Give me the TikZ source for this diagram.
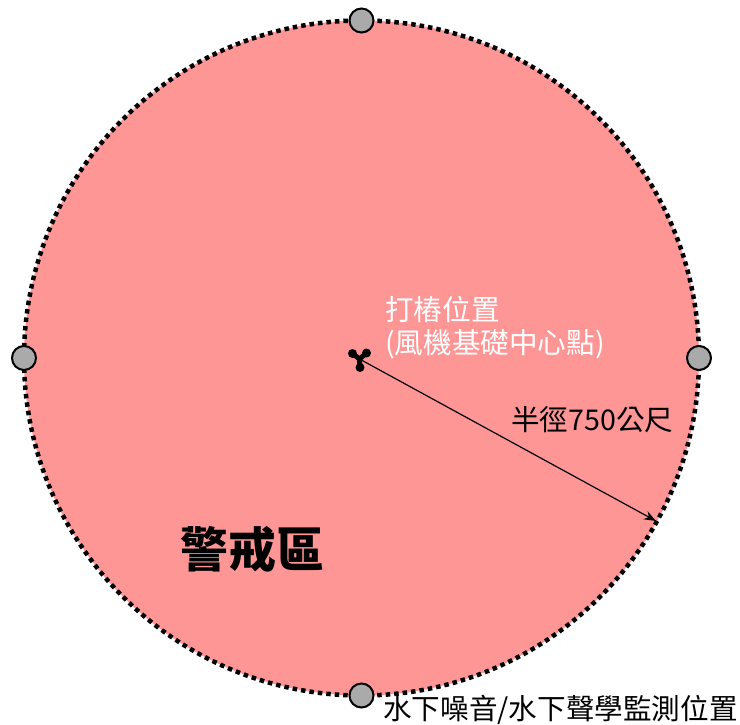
\documentclass[tikz,border=0pt]{standalone}
\usepackage{fontspec}
\setmainfont{Noto Sans CJK TC}
\usetikzlibrary{arrows.meta}
\definecolor{zonepink}{RGB}{255,150,150}
\definecolor{markgray}{RGB}{170,170,170}
\tikzset{
  zone/.style={fill=zonepink, draw=black, line width=4.5pt, dash pattern=on 4.5pt off 4pt},
  monitor/.style={circle, fill=markgray, draw=black, line width=2pt, minimum size=24pt, inner sep=0pt},
  lbl/.style={inner sep=0pt, anchor=west, font=\fontsize{28.6}{33}\selectfont},
}
\begin{document}
\begin{tikzpicture}[x=1pt,y=-1pt]
\useasboundingbox (0,0) rectangle (740,724);
\coordinate (c) at (361.5,358);
\draw[zone] (c) circle[radius=337.5];
\node[monitor] (top) at (361.5,20.5) {};
\node[monitor] (bottom) at (361.5,695.5) {};
\node[monitor] (left) at (24,358) {};
\node[monitor] (right) at (699,358) {};
% turbine symbol
\coordinate (t) at (359.5,359);
\coordinate (t1) at (352.5,353.5);
\coordinate (t2) at (366.5,353);
\coordinate (t3) at (360,367.5);
\draw[line width=5pt, line cap=round, line join=round] (t1) -- (t) -- (t2) (t) -- (t3);
\fill (t1) circle[radius=4.5] (t2) circle[radius=4.5] (t3) circle[radius=4.5];
\coordinate (rim) at (656,521);
\draw[line width=1.2pt, -{Stealth[length=12pt,width=9pt]}] (t) -- (rim);
\node[lbl, text=white, align=left, anchor=north west] (pile) at (385,296) {打樁位置\\(風機基礎中心點)};
\node[lbl, anchor=west] (radius) at (511,420) {半徑750公尺};
\node[inner sep=0pt, anchor=west, font=\fontsize{48}{56}\bfseries\selectfont] (warn) at (180,549) {警戒區};
\node[lbl, anchor=west] (mon) at (383,710) {水下噪音/水下聲學監測位置};
\end{tikzpicture}
\end{document}
